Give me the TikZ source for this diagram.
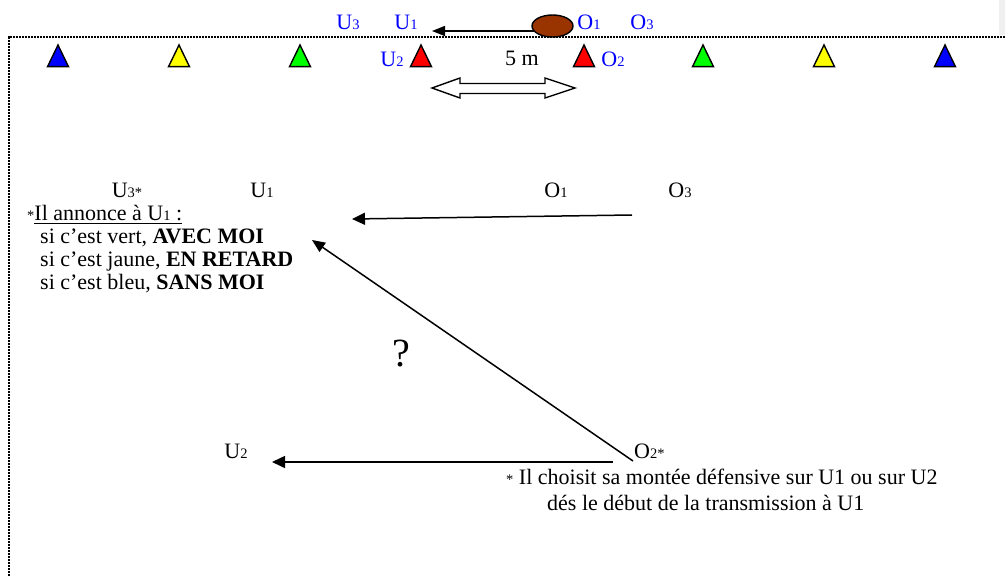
\documentclass[tikz,border=0pt]{standalone}
\usepackage{fontspec}
\setmainfont{Liberation Serif}
\usetikzlibrary{arrows.meta,shapes.geometric}
\definecolor{ballbrown}{RGB}{153,51,0}
\definecolor{conegreen}{RGB}{0,255,0}
\definecolor{coneyellow}{RGB}{255,255,0}
\definecolor{coneblue}{RGB}{0,0,255}
\definecolor{conered}{RGB}{255,0,0}
\definecolor{lblblue}{RGB}{0,0,255}
\definecolor{stripgrey}{RGB}{240,240,240}
\newcommand\dg[1]{{\fontsize{14.5}{16}\selectfont #1}}
\newcommand\cone[2]{\draw[conestyle,fill=#2] (#1-10.5,66.7) -- (#1+10.5,66.7) -- (#1,45) -- cycle;}
\tikzset{
  lbl/.style={inner sep=0pt, anchor=base, font=\fontsize{22}{23}\selectfont},
  bluelbl/.style={lbl, text=lblblue},
  txt/.style={inner sep=0pt, anchor=base west, font=\fontsize{22}{23}\selectfont},
  conestyle/.style={draw=black, line width=1.4pt, line join=miter},
  arr/.style={line width=1.5pt, -{Triangle[length=13pt,width=12pt]}},
  framedot/.style={line width=2pt, dash pattern=on 1.8pt off 1.2pt},
}
\begin{document}
\begin{tikzpicture}[x=1pt,y=-1pt]
\useasboundingbox (0,0) rectangle (1005,577);
\fill[stripgrey] (999,0) rectangle (1005,35);
% frame
\draw[framedot] (1005,37.5) -- (8.5,37.5) -- (8.5,577);
% top row labels
\node[bluelbl] (tU3) at (348,30) {U\dg{3}};
\node[bluelbl] (tU1) at (406,30) {U\dg{1}};
\node[bluelbl] (tO1) at (589,30) {O\dg{1}};
\node[bluelbl] (tO3) at (642,30) {O\dg{3}};
\coordinate (passstart) at (545,31);
\coordinate (passend) at (432,31);
\draw[line width=1.6pt, -{Triangle[length=13pt,width=10pt]}] (passstart) -- (passend);
\node[draw=black, line width=1.4pt, fill=ballbrown, ellipse, minimum width=41pt, minimum height=22pt, inner sep=0pt] (ball) at (552.5,26) {};
% cones
\cone{58}{coneblue}
\cone{179}{coneyellow}
\cone{300}{conegreen}
\cone{421}{conered}
\cone{584}{conered}
\cone{703}{conegreen}
\cone{824}{coneyellow}
\cone{945}{coneblue}
\node[bluelbl] (tU2) at (392,67) {U\dg{2}};
\node[bluelbl] (tO2) at (613,67) {O\dg{2}};
\node[lbl] (five) at (522,66) {5 m};
% double arrow 5 m
\draw[line width=1.4pt, line join=miter, fill=white]
  (432,88) -- (460,78) -- (460,83.5) -- (545,83.5) -- (545,78) -- (575,88)
  -- (545,98) -- (545,93.5) -- (460,93.5) -- (460,98) -- cycle;
% lower scene
\node[lbl] (U3) at (127,198) {U\dg{3*}};
\node[lbl] (U1) at (262,198) {U\dg{1}};
\node[lbl] (O1) at (556,198) {O\dg{1}};
\node[lbl] (O3) at (680,198) {O\dg{3}};
\node[txt] (ann) at (27,221) {\dg{*}\underline{Il annonce à U\dg{1} :}};
\node[txt] (l1) at (40,244) {si c’est vert, \textbf{AVEC MOI}};
\node[txt] (l2) at (40,267) {si c’est jaune, \textbf{EN RETARD}};
\node[txt] (l3) at (40,290) {si c’est bleu, \textbf{SANS MOI}};
\coordinate (o1start) at (632,215);
\coordinate (u1end) at (352,219);
\draw[arr] (o1start) -- (u1end);
\coordinate (o2start) at (633,461);
\coordinate (u1diag) at (312,240);
\draw[line width=1.5pt, -{Triangle[length=13pt,width=11pt]}] (o2start) -- (u1diag);
\node[inner sep=0pt, anchor=base, font=\fontsize{40}{40}\selectfont] (q) at (401,367) {?};
\node[lbl] (U2) at (236,459) {U\dg{2}};
\node[txt] (O2) at (634,459) {O\dg{2*}};
\coordinate (o2left) at (613,462);
\coordinate (u2end) at (272,462);
\draw[arr] (o2left) -- (u2end);
\node[txt] (n1) at (506,485) {\dg{*} Il choisit sa montée défensive sur U1 ou sur U2};
\node[txt] (n2) at (547,511) {dés le début de la transmission à U1};
\end{tikzpicture}
\end{document}
